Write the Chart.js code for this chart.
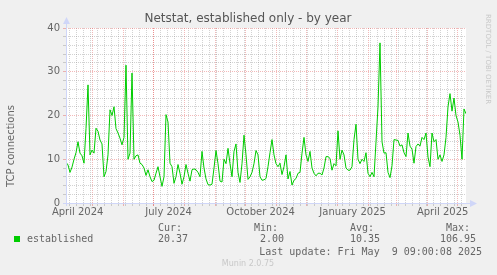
<!DOCTYPE html>
<html>
<head>
<meta charset="utf-8">
<script src="https://cdn.jsdelivr.net/npm/chart.js@4/dist/chart.umd.min.js"></script>
<style>
  html, body { margin: 0; padding: 0; background: #f0f0f0; }
  canvas { display: block; }
</style>
</head>
<body>
<canvas id="netstatChart" width="497" height="275"></canvas>
<script>
// one reading every 2 days, from the start of the 400 day window
const stepDays = 2
const established = [
  9.3, 8.7, 7.0, 8.2, 10, 11.5, 14, 11.4, 10.8, 9.1,
  17, 27, 11, 12.1, 11.4, 17.1, 16.4, 14.4, 13.5, 6,
  7.2, 11, 21.3, 20, 22, 17, 16, 14.8, 13.3, 15,
  31.5, 10, 11.4, 29.7, 10, 10.8, 11, 9.1, 8.8, 8,
  6.3, 7.6, 6, 4.9, 5.2, 6.8, 8.3, 6, 3.8, 6,
  20.2, 18.5, 9.1, 8.3, 4.5, 6, 8.8, 6.8, 4.3, 6,
  8.8, 6.8, 5, 7.6, 7.8, 7.6, 7, 6, 11.8, 8,
  5.5, 4.2, 4.1, 4.3, 8, 12, 9, 5, 4.8, 10,
  9, 12.5, 9, 6, 11.8, 13.5, 7, 4.7, 9, 15.5,
  11, 5.4, 6, 7, 9, 12, 11, 6, 5.2, 5.3,
  5.6, 8.3, 11.5, 14.5, 11, 9, 8.3, 9.1, 6.5, 8.3,
  11, 5.5, 7.2, 4.1, 5.2, 5.6, 6.8, 7, 11.4, 15,
  11, 9.5, 11.8, 8, 6.8, 6.2, 6.8, 6.8, 6.4, 8,
  10.6, 10.6, 10.2, 7.5, 9, 8.5, 16.5, 10, 12.1, 11,
  8, 7.5, 7.5, 8.3, 14.5, 18, 10, 9, 10, 9.5,
  11.5, 6.8, 6, 7, 6, 14, 22, 36.6, 14, 11.4,
  11.5, 7, 5.8, 8.5, 14.5, 14.4, 14.3, 13, 13.3, 11.5,
  10.6, 16, 13, 12.3, 9.1, 12.9, 13.5, 13, 15, 14.5,
  16, 10.5, 8.3, 16, 14, 14.5, 10, 11, 9.5, 11,
  15, 22, 25, 21, 24, 20, 18.5, 15.5, 10, 21.5,
  20.4
]

const monthNames = ['January', 'February', 'March', 'April', 'May', 'June', 'July',
  'August', 'September', 'October', 'November', 'December']
const labelMonths = [[2024, 3], [2024, 6], [2024, 9], [2025, 0], [2025, 3]]
const yTicks = [0, 10, 20, 30, 40]

const legendHead = ['Cur:', 'Min:', 'Avg:', 'Max:']
const legendVals = ['20.37', '2.00', '10.35', '106.95']
const lastUpdate = 'Last update: Fri May  9 09:00:08 2025'

const endTime = Date.UTC(2025, 4, 9, 9, 0, 8)
const startTime = endTime - 400 * 864e5
const dayOf = (y, m, d) => (Date.UTC(y, m, d) - startTime) / 864e5

// grid: weekly minor lines, monthly major lines, labels in mid month
const monthStarts = []
for (let y = 2024; y <= 2025; y++) {
  for (let m = 0; m < 12; m++) {
    const d = dayOf(y, m, 1)
    if (d > 0 && d < 400) monthStarts.push(d)
  }
}
const weekStarts = []
for (let d = dayOf(2024, 3, 8); d < 400; d += 7) weekStarts.push(d)
const labelDays = {}
labelMonths.forEach(([y, m]) => { labelDays[dayOf(y, m, 16).toFixed(3)] = monthNames[m] + ' ' + y })

const xTickValues = [...weekStarts, ...monthStarts, ...Object.keys(labelDays).map(Number)]
const isMonth = v => monthStarts.some(d => Math.abs(d - v) < 0.01)
const isLabel = v => labelDays[v.toFixed(3)] !== undefined

const points = established.map((v, i) => ({ x: i * stepDays, y: v }))

const minorGrid = 'rgba(143,143,143,0.4)'
const majorGrid = 'rgba(222,79,79,0.4)'
const axisColor = '#cfd6f8'
const fontColor = '#666666'

const munin = {
  id: 'munin',
  beforeDraw(chart) {
    const { ctx, chartArea: a } = chart
    ctx.save()
    ctx.fillStyle = '#f0f0f0'
    ctx.fillRect(0, 0, chart.width, chart.height)
    ctx.fillStyle = '#ffffff'
    ctx.fillRect(a.left, a.top, a.right - a.left, a.bottom - a.top)
    ctx.restore()
  },
  afterDraw(chart) {
    const { ctx, chartArea: a } = chart
    ctx.save()
    // axes with arrows
    ctx.strokeStyle = axisColor
    ctx.fillStyle = axisColor
    ctx.lineWidth = 1
    ctx.beginPath()
    ctx.moveTo(63, a.bottom + 0.5)
    ctx.lineTo(472, a.bottom + 0.5)
    ctx.moveTo(a.left + 0.5, a.bottom + 3)
    ctx.lineTo(a.left + 0.5, 22)
    ctx.stroke()
    ctx.beginPath()
    ctx.moveTo(477, a.bottom + 0.5)
    ctx.lineTo(470, a.bottom - 3)
    ctx.lineTo(470, a.bottom + 4)
    ctx.closePath()
    ctx.fill()
    ctx.beginPath()
    ctx.moveTo(a.left + 0.5, 17)
    ctx.lineTo(a.left - 3, 24)
    ctx.lineTo(a.left + 4, 24)
    ctx.closePath()
    ctx.fill()

    // title
    ctx.fillStyle = '#555555'
    ctx.font = '12px "DejaVu Sans"'
    ctx.textAlign = 'center'
    ctx.textBaseline = 'middle'
    ctx.fillText('Netstat, established only - by year', 248, 19)

    // vertical axis title
    ctx.save()
    ctx.translate(11, 146)
    ctx.rotate(-Math.PI / 2)
    ctx.fillStyle = fontColor
    ctx.font = '10px "DejaVu Sans"'
    ctx.fillText('TCP connections', 0, 0)
    ctx.restore()

    // watermark on the right
    ctx.save()
    ctx.translate(488, 14)
    ctx.rotate(Math.PI / 2)
    ctx.fillStyle = '#c8c8c8'
    ctx.font = '7px "DejaVu Sans"'
    ctx.textAlign = 'left'
    ctx.fillText('RRDTOOL / TOBI OETIKER', 0, 0)
    ctx.restore()

    // legend
    ctx.fillStyle = '#00cc00'
    ctx.fillRect(14, 236, 6, 6)
    ctx.fillStyle = fontColor
    ctx.font = '10px "DejaVu Sans Mono"'
    ctx.textAlign = 'left'
    ctx.fillText('established', 27, 239.5)
    ctx.textAlign = 'right'
    const headRight = [182, 278, 374, 470]
    legendHead.forEach((t, i) => ctx.fillText(t, headRight[i], 228))
    legendVals.forEach((t, i) => ctx.fillText(t, headRight[i] + 6, 239.5))
    ctx.fillText(lastUpdate, 482, 252)

    ctx.textAlign = 'center'
    ctx.fillStyle = '#c8c8c8'
    ctx.font = '8px "DejaVu Sans"'
    ctx.fillText('Munin 2.0.75', 248, 264)
    ctx.restore()
  }
}

new Chart(document.getElementById('netstatChart'), {
  type: 'line',
  data: {
    datasets: [{
      label: 'established',
      data: points,
      borderColor: '#00cc00',
      borderWidth: 1,
      pointRadius: 0,
      tension: 0,
      fill: false
    }]
  },
  options: {
    responsive: false,
    devicePixelRatio: 1,
    animation: false,
    layout: { padding: { left: 0, top: 28, right: 31, bottom: 52 } },
    plugins: { legend: { display: false }, tooltip: { enabled: false } },
    scales: {
      x: {
        type: 'linear',
        min: 0,
        max: 400,
        afterFit: s => { s.height = 20 },
        afterBuildTicks: s => { s.ticks = xTickValues.map(v => ({ value: v })) },
        ticks: {
          autoSkip: false,
          maxRotation: 0,
          padding: 0,
          color: fontColor,
          font: { family: 'DejaVu Sans', size: 10 },
          callback: v => labelDays[Number(v).toFixed(3)] || ''
        },
        grid: {
          color: c => isLabel(c.tick.value) ? 'rgba(0,0,0,0)' : (isMonth(c.tick.value) ? majorGrid : minorGrid),
          tickColor: c => isLabel(c.tick.value) ? 'rgba(0,0,0,0)' : (isMonth(c.tick.value) ? majorGrid : minorGrid),
          tickLength: 3,
          lineWidth: 1
        },
        border: { display: false, dash: [1, 1] }
      },
      y: {
        min: 0,
        max: 40,
        afterFit: s => { s.width = 66 },
        ticks: {
          stepSize: 2,
          autoSkip: false,
          padding: 3,
          color: fontColor,
          font: { family: 'DejaVu Sans', size: 10 },
          callback: v => yTicks.includes(v) ? String(v) : ''
        },
        grid: {
          color: c => c.tick.value % 10 === 0 ? majorGrid : minorGrid,
          tickColor: c => c.tick.value % 10 === 0 ? majorGrid : minorGrid,
          tickLength: 3,
          lineWidth: 1
        },
        border: { display: false, dash: [1, 1] }
      }
    }
  },
  plugins: [munin]
})
</script>
</body>
</html>
